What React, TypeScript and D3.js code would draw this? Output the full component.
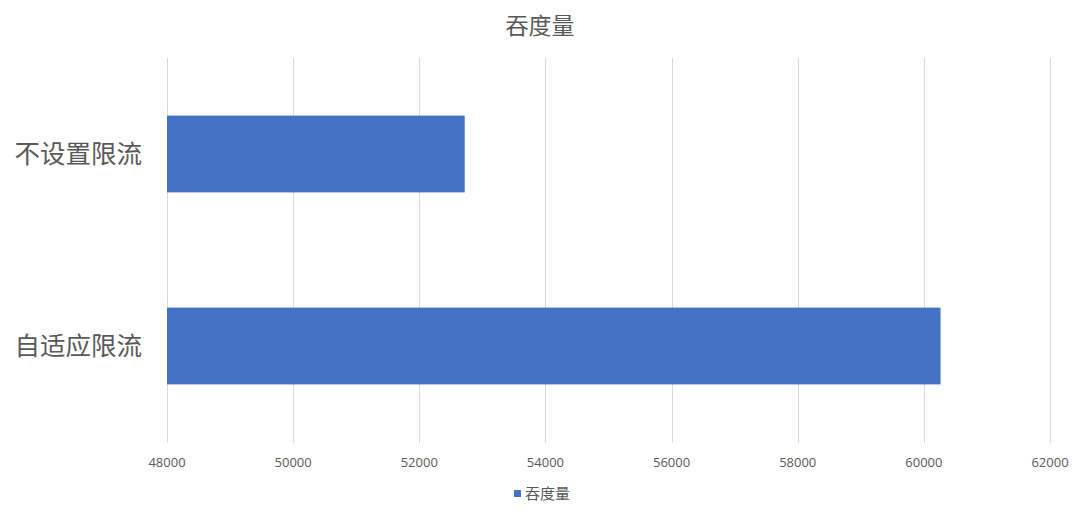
import { useEffect, useRef } from 'react';
import * as d3 from 'd3';

const CATEGORIES = ['不设置限流', '自适应限流'];
const THROUGHPUT = [52720, 60265];
const X_TICKS = [48000, 50000, 52000, 54000, 56000, 58000, 60000, 62000];
const SERIES_NAME = '吞度量';
const TITLE = '吞度量';

const WIDTH = 1080;
const HEIGHT = 514;
const BAR_COLOR = '#4472c4';
const TEXT_COLOR = '#595959';
const GRID_COLOR = '#d9d9d9';
const FONT = '"Open Sans", "Noto Sans CJK SC", sans-serif';

export default function App() {
  const svgRef = useRef<SVGSVGElement>(null);

  useEffect(() => {
    if (!svgRef.current) return;
    const svg = d3.select(svgRef.current);
    svg.selectAll('*').remove();

    const x = d3.scaleLinear().domain([48000, 62000]).range([167, 1050]);
    const y = d3.scaleBand<string>().domain(CATEGORIES).range([58, 442]).paddingInner(0.6).paddingOuter(0.3);

    svg.append('rect').attr('width', WIDTH).attr('height', HEIGHT).attr('fill', '#ffffff');

    // gridlines
    svg.append('g')
      .selectAll('line')
      .data(X_TICKS)
      .join('line')
      .attr('x1', d => Math.round(x(d)) + 0.5)
      .attr('x2', d => Math.round(x(d)) + 0.5)
      .attr('y1', 58)
      .attr('y2', 443)
      .attr('stroke', GRID_COLOR)
      .attr('stroke-width', 1);

    // bars
    svg.append('g')
      .selectAll('rect')
      .data(CATEGORIES)
      .join('rect')
      .attr('x', x(48000))
      .attr('y', d => y(d)!)
      .attr('width', (_, i) => x(THROUGHPUT[i]) - x(48000))
      .attr('height', y.bandwidth())
      .attr('fill', BAR_COLOR);

    // category labels
    svg.append('g')
      .selectAll('text')
      .data(CATEGORIES)
      .join('text')
      .attr('x', 142)
      .attr('y', d => y(d)! + y.bandwidth() / 2)
      .attr('dy', '0.36em')
      .attr('text-anchor', 'end')
      .attr('font-family', FONT)
      .attr('font-size', 25.5)
      .attr('fill', TEXT_COLOR)
      .text(d => d);

    // x tick labels
    svg.append('g')
      .selectAll('text')
      .data(X_TICKS)
      .join('text')
      .attr('x', d => x(d))
      .attr('y', 467)
      .attr('text-anchor', 'middle')
      .attr('font-family', FONT)
      .attr('font-size', 13)
      .attr('fill', TEXT_COLOR)
      .text(d => String(d));

    // title
    svg.append('text')
      .attr('x', 540)
      .attr('y', 34)
      .attr('text-anchor', 'middle')
      .attr('font-family', FONT)
      .attr('font-size', 23)
      .attr('fill', TEXT_COLOR)
      .text(TITLE);

    // legend
    const legend = svg.append('g');
    legend.append('rect')
      .attr('x', 514).attr('y', 490).attr('width', 7).attr('height', 7)
      .attr('fill', BAR_COLOR);
    legend.append('text')
      .attr('x', 525).attr('y', 498.5)
      .attr('font-family', FONT)
      .attr('font-size', 15)
      .attr('fill', TEXT_COLOR)
      .text(SERIES_NAME);
  }, []);

  return (
    <div style={{ position: 'absolute', left: 0, top: 0 }}>
      <svg ref={svgRef} width={WIDTH} height={HEIGHT} style={{ display: 'block' }} />
    </div>
  );
}
